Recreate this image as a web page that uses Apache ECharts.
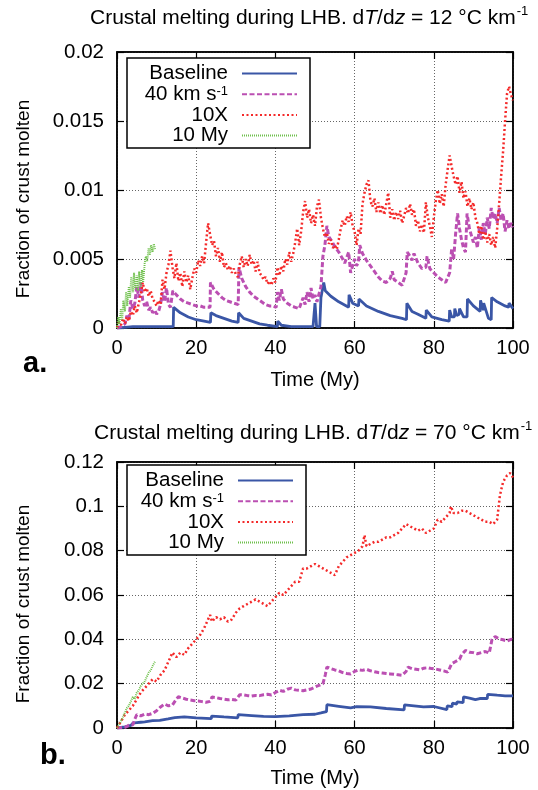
<!DOCTYPE html>
<html>
<head>
<meta charset="utf-8">
<script src="https://cdn.jsdelivr.net/npm/echarts@6/dist/echarts.min.js"></script>
<style>
html,body{margin:0;padding:0;background:#fff;}
#c{width:538px;height:790px;}
</style>
</head>
<body>
<div id="c"></div>
<script>
// ---------- DATA ----------
const seriesNames = ['Baseline', '40 km s-1', '10X', '10 My'];
const xTicks = [0, 20, 40, 60, 80, 100];
const aYTicks = [0, 0.005, 0.01, 0.015, 0.02];
const bYTicks = [0, 0.02, 0.04, 0.06, 0.08, 0.1, 0.12];

// panel a (dT/dz = 12)
const aBaseT = [0,2,4,14.2,14.3,16,18,20,22,23.6,23.7,25,27,29,30.6,30.7,32,34,36,38,40.5,40.6,41.5,44,49.5,50,50.4,51.2,51.5,52.2,52.6,54,56,58.5,58.6,59.5,61,61.1,63,66,69,72,73.1,73.2,74.5,76,78,78.1,79.5,82,83.9,84,84.5,85.2,85.3,85.8,86.4,86.5,87.5,88.4,88.5,90,91.7,91.8,92.5,92.6,93.8,94.5,94.6,96,98,98.9,99,100];
const aBaseV = [0,0.00005,0.0001,0.0001,0.0015,0.0011,0.0008,0.0006,0.0005,0.0004,0.0011,0.0009,0.0007,0.0005,0.0004,0.0011,0.0007,0.0005,0.0003,0.0002,0.0001,0.0005,0.0002,0.0001,0.0001,0.0018,0.0001,0.0001,0.0022,0.0033,0.0027,0.0023,0.0019,0.0015,0.0024,0.0018,0.0016,0.0021,0.0016,0.0012,0.0009,0.0007,0.0006,0.0018,0.0012,0.0010,0.0007,0.0013,0.0008,0.0006,0.0005,0.0013,0.0008,0.0008,0.0014,0.0009,0.0010,0.0014,0.0008,0.0008,0.0021,0.0016,0.0012,0.0020,0.0013,0.0018,0.0007,0.0006,0.0022,0.0019,0.0016,0.0015,0.0018,0.0014];

const a40T = [0,1,2,2.5,3,3.5,4,4.5,5,5.5,6,6.5,7,7.5,8,8.5,9,9.5,10,10.5,11,11.5,12,12.5,13,13.5,14,14.1,15,16,17,18,19,20,21,22,23.5,23.6,24.5,25.5,26.5,27.5,28.5,29.5,30.6,30.8,31.5,32.5,33.5,34.5,35.5,36.5,37.5,38.5,39.5,40.2,40.5,41,41.5,42,43,44,45,46,46.5,47,47.5,48,48.5,49,49.5,50,50.5,51,51.5,52,52.5,53,53.5,54,55,56,57,57.5,58,58.5,59,59.5,60,60.5,61,61.3,62,63,64,65,66,67,68,68.5,69,69.5,70,71,72,72.5,73,73.3,74,74.5,75,76,77,78,78.3,79,80,81,82,83,83.5,84,84.5,85,85.5,86,86.5,87,87.5,88,88.4,89,89.5,90,90.5,91,91.5,92,92.5,93,93.5,94,94.5,95,95.5,96,96.5,97,97.5,98,98.5,99,99.5,100];
const a40V = [0,0.0001,0.0003,0.0009,0.0006,0.0020,0.0014,0.0018,0.0030,0.0022,0.0033,0.0020,0.0016,0.0019,0.0013,0.0015,0.0011,0.0013,0.0010,0.0012,0.0017,0.0026,0.0019,0.0029,0.0017,0.0015,0.0014,0.0027,0.0024,0.0021,0.0019,0.0018,0.0017,0.0016,0.0016,0.0015,0.0015,0.0033,0.0028,0.0025,0.0022,0.0020,0.0019,0.0018,0.0017,0.0044,0.0036,0.0030,0.0026,0.0023,0.0021,0.0019,0.0017,0.0016,0.0016,0.0015,0.0026,0.0020,0.0028,0.0021,0.0018,0.0016,0.0015,0.0014,0.0014,0.0022,0.0017,0.0026,0.0019,0.0029,0.0021,0.0024,0.0019,0.0018,0.0030,0.0052,0.0060,0.0074,0.0066,0.0064,0.0059,0.0055,0.0050,0.0047,0.0046,0.0055,0.0040,0.0039,0.0050,0.0045,0.0048,0.0060,0.0054,0.0049,0.0045,0.0041,0.0037,0.0034,0.0033,0.0032,0.0036,0.0041,0.0035,0.0033,0.0031,0.0030,0.0040,0.0055,0.0052,0.0049,0.0054,0.0047,0.0043,0.0044,0.0052,0.0043,0.0040,0.0037,0.0035,0.0033,0.0032,0.0040,0.0057,0.0050,0.0068,0.0083,0.0072,0.0064,0.0058,0.0055,0.0083,0.0072,0.0067,0.0062,0.0066,0.0058,0.0073,0.0064,0.0076,0.0068,0.0080,0.0072,0.0087,0.0079,0.0083,0.0076,0.0087,0.0078,0.0083,0.0070,0.0078,0.0072,0.0076,0.0073];

const a10xT = [0,0.5,1,1.5,2,2.5,3,3.5,4,4.5,5,5.5,6,6.5,7,7.5,8,8.5,9,9.5,10,10.5,11,11.5,12,12.5,13,13.5,14,14.5,15,15.5,16,16.5,17,17.5,18,18.5,19,19.5,20,20.5,21,21.5,22,22.5,23,23.5,24,24.5,25,25.5,26,26.5,27,27.5,28,28.5,29,29.5,30,30.5,31,31.5,32,32.5,33,33.5,34,34.5,35,35.5,36,36.5,37,37.5,38,38.5,39,39.5,40,40.5,41,41.5,42,42.5,43,43.5,44,44.5,45,45.5,46,46.5,47,47.5,48,48.5,49,49.5,50,50.5,51,51.5,52,52.5,53,53.5,54,54.5,55,55.5,56,56.5,57,57.5,58,58.5,59,59.5,60,60.5,61,61.5,62,62.5,63,63.5,64,64.5,65,65.5,66,66.5,67,67.5,68,68.5,69,69.5,70,70.5,71,71.5,72,72.5,73,73.5,74,74.5,75,75.5,76,76.5,77,77.5,78,78.5,79,79.5,80,80.5,81,81.5,82,82.5,83,83.5,84,84.5,85,85.5,86,86.5,87,87.5,88,88.5,89,89.5,90,90.5,91,91.5,92,92.5,93,93.5,94,94.5,95,95.5,96,96.5,97,97.5,98,98.5,99,99.5,100];
const a10xV = [0,0.0004,0.0002,0.0007,0.0003,0.0008,0.0005,0.0012,0.0009,0.0016,0.0011,0.0018,0.0024,0.0033,0.0026,0.0029,0.0023,0.0027,0.0021,0.0019,0.0016,0.0020,0.0017,0.0035,0.0028,0.0040,0.0046,0.0056,0.0044,0.0036,0.0047,0.0034,0.0040,0.0030,0.0041,0.0033,0.0038,0.0028,0.0036,0.0043,0.0040,0.0049,0.0045,0.0052,0.0047,0.0062,0.0076,0.0068,0.0060,0.0063,0.0052,0.0058,0.0048,0.0055,0.0044,0.0047,0.0042,0.0045,0.0040,0.0043,0.0039,0.0037,0.0046,0.0052,0.0044,0.0050,0.0045,0.0053,0.0046,0.0049,0.0041,0.0048,0.0040,0.0038,0.0035,0.0037,0.0032,0.0034,0.0031,0.0036,0.0033,0.0044,0.0038,0.0045,0.0041,0.0050,0.0046,0.0055,0.0048,0.0054,0.0062,0.0072,0.0060,0.0070,0.0084,0.0092,0.0080,0.0086,0.0076,0.0082,0.0074,0.0088,0.0093,0.0080,0.0072,0.0066,0.0069,0.0061,0.0064,0.0058,0.0060,0.0057,0.0064,0.0072,0.0078,0.0074,0.0081,0.0077,0.0084,0.0074,0.0070,0.0060,0.0072,0.0068,0.0090,0.0098,0.0104,0.0107,0.0092,0.0088,0.0094,0.0084,0.0091,0.0083,0.0089,0.0082,0.0090,0.0098,0.0080,0.0086,0.0078,0.0084,0.0079,0.0085,0.0076,0.0081,0.0087,0.0083,0.0090,0.0082,0.0086,0.0074,0.0078,0.0070,0.0075,0.0069,0.0091,0.0080,0.0074,0.0066,0.0080,0.0092,0.0100,0.0090,0.0097,0.0088,0.0104,0.0115,0.0125,0.0117,0.0110,0.0104,0.0110,0.0098,0.0106,0.0094,0.0099,0.0088,0.0094,0.0086,0.0091,0.0080,0.0076,0.0068,0.0074,0.0064,0.0070,0.0062,0.0068,0.0060,0.0066,0.0058,0.0072,0.0090,0.0110,0.0128,0.0150,0.0170,0.0175,0.0169,0.0165];

const a10myT = [0,0.3,0.6,1,1.3,1.6,2,2.3,2.6,3,3.3,3.6,4,4.3,4.6,5,5.3,5.6,6,6.3,6.6,7,7.3,7.6,8,8.3,8.6,9,9.3,9.6];
const a10myV = [0,0.0008,0.0003,0.0014,0.0006,0.0020,0.0012,0.0026,0.0016,0.0030,0.0022,0.0037,0.0026,0.0040,0.0028,0.0038,0.0027,0.0041,0.0030,0.0042,0.0033,0.0047,0.0052,0.0048,0.0058,0.0053,0.0060,0.0055,0.0061,0.0057];

// panel b (dT/dz = 70)
const bBaseT = [0,2,3.5,4,5,6,7,7.1,9,10.8,10.9,12.9,13,14.6,14.7,17,20,23.8,23.9,27,30.5,30.6,34,37,40,43.5,43.6,47,50,50.1,51.5,51.6,52.9,53,56,59,59.1,60.5,60.6,64,68,72.5,72.6,75,77.4,77.5,80,83.3,83.4,84.6,84.7,85.8,85.9,87.4,87.5,89,90.5,90.6,91.6,91.7,93.5,93.6,96,98,98.1,100];
const bBaseV = [0,0.0005,0.0012,0.0022,0.0024,0.0026,0.0028,0.0032,0.0033,0.0034,0.0040,0.0041,0.0048,0.0047,0.0056,0.0050,0.0046,0.0042,0.0054,0.0050,0.0046,0.0060,0.0056,0.0052,0.0051,0.0055,0.0060,0.0060,0.0062,0.0068,0.0068,0.0074,0.0074,0.0105,0.0098,0.0091,0.0098,0.0096,0.0103,0.0095,0.0088,0.0082,0.0104,0.0100,0.0095,0.0102,0.0097,0.0083,0.0100,0.0096,0.0112,0.0108,0.0118,0.0114,0.0140,0.0135,0.0128,0.0136,0.0133,0.0142,0.0133,0.0152,0.0148,0.0145,0.0152,0.0145];

const b40T = [0,2,3,4,4.5,5,6,7,8,9,10,10.5,11,12,13,14,14.5,15,15.5,16.5,17.5,18.5,19.5,20.5,21.5,22.5,23.5,24,25,26,27,28,29,30,31,32,33,34,35,36,37,38,39,40,41,42,43,44,45,46,47,48,49,50,51,52,52.6,53,54,55,56,57,58,59,60,61,62,63,64,65,66,67,68,69,70,71,72,73,73.5,74.5,75.5,76.5,77.5,78.5,79.5,80.5,81.5,82.5,83.5,84,84.5,85.5,86.5,87,88,89,90,91,92,93,94,94.5,94.7,95.5,96.5,97.5,98.5,99.5,100];
const b40V = [0,0.0003,0.0012,0.0015,0.0040,0.0060,0.0055,0.0063,0.0060,0.0066,0.0078,0.0075,0.0095,0.0108,0.0100,0.0104,0.0100,0.0130,0.0141,0.0135,0.0130,0.0126,0.0123,0.0122,0.0119,0.0116,0.0120,0.0140,0.0137,0.0133,0.0130,0.0127,0.0129,0.0126,0.0150,0.0149,0.0146,0.0144,0.0147,0.0146,0.0150,0.0152,0.0149,0.0160,0.0170,0.0165,0.0175,0.0180,0.0172,0.0170,0.0168,0.0172,0.0176,0.0185,0.0192,0.0200,0.0240,0.0275,0.0268,0.0262,0.0258,0.0250,0.0246,0.0244,0.0255,0.0262,0.0260,0.0265,0.0258,0.0254,0.0250,0.0248,0.0246,0.0244,0.0242,0.0240,0.0238,0.0255,0.0275,0.0268,0.0265,0.0262,0.0270,0.0272,0.0268,0.0266,0.0262,0.0258,0.0252,0.0270,0.0290,0.0300,0.0310,0.0330,0.0350,0.0342,0.0340,0.0335,0.0340,0.0345,0.0338,0.0340,0.0400,0.0412,0.0402,0.0398,0.0392,0.0400,0.0398];

const b10xT = [0,1,2,3,4,5,6,7,8,9,10,11,12,13,14,15,16,17,18,19,20,21,22,23,23.5,24,25,26,27,28,29,30,31,32,33,34,35,36,37,38,39,40,41,42,43,44,45,46,47,48,49,50,51,52,53,54,55,56,57,58,59,60,61,62,62.5,63,64,65,66,67,68,69,70,71,72,73,74,75,76,77,78,79,80,81,82,83,84,84.3,85,86,87,88,89,90,91,92,93,94,95,96,96.7,97.5,98.5,99.3,100];
const b10xV = [0,0.003,0.006,0.008,0.010,0.013,0.016,0.018,0.020,0.022,0.021,0.024,0.026,0.030,0.034,0.032,0.034,0.033,0.036,0.038,0.040,0.042,0.045,0.049,0.051,0.048,0.050,0.049,0.050,0.048,0.049,0.052,0.054,0.055,0.056,0.057,0.058,0.057,0.056,0.055,0.057,0.059,0.061,0.060,0.062,0.064,0.066,0.066,0.072,0.072,0.073,0.074,0.073,0.072,0.071,0.070,0.069,0.073,0.075,0.077,0.078,0.079,0.080,0.082,0.087,0.082,0.083,0.084,0.084,0.085,0.086,0.086,0.087,0.088,0.090,0.092,0.091,0.090,0.089,0.090,0.088,0.089,0.090,0.094,0.093,0.095,0.097,0.100,0.097,0.097,0.098,0.098,0.097,0.096,0.095,0.094,0.093,0.093,0.092,0.094,0.105,0.111,0.114,0.115,0.113];

const b10myT = [0,1,2,2.5,3,3.5,4,4.5,5,5.5,6,6.5,7,7.5,8,8.5,9,9.6];
const b10myV = [0,0.003,0.007,0.009,0.010,0.012,0.014,0.013,0.016,0.017,0.019,0.020,0.021,0.023,0.025,0.026,0.028,0.030];

// ---------- CHART ----------
const pairs = (t, v) => t.map((x, i) => [x, v[i]]);
const FONT = 'Liberation Sans';
const colors = ['#3a56a6', '#bb4fb2', '#f42a2a', '#6fc04c'];
const styles = [
  {width: 2.8, type: 'solid'},
  {width: 3, type: [5, 2.5]},
  {width: 2.5, type: [2, 2.5]},
  {width: 2, type: [1, 1]}
];
function mk(name, idx, grid, t, v) {
  return {
    name: name, type: 'line', xAxisIndex: grid * 2, yAxisIndex: grid * 2,
    data: pairs(t, v), showSymbol: false, symbol: 'none', animation: false,
    lineStyle: {color: colors[idx], width: styles[idx].width, type: styles[idx].type},
    itemStyle: {color: colors[idx]}
  };
}
function xAx(grid, main) {
  return {
    type: 'value', gridIndex: grid, position: main ? 'bottom' : 'top',
    min: xTicks[0], max: xTicks[xTicks.length - 1], interval: xTicks[1] - xTicks[0],
    name: main ? 'Time (My)' : '', nameLocation: 'middle', nameGap: grid === 0 ? 42 : 40,
    nameTextStyle: {fontFamily: FONT, fontSize: 20, color: '#000'},
    axisLine: {show: true, onZero: false, lineStyle: {color: '#000', width: 1.5}},
    axisTick: {show: true, inside: true, length: 7, lineStyle: {color: '#000', width: 1.2}},
    axisLabel: {show: main, margin: 10, fontFamily: FONT, fontSize: 20, color: '#000'},
    splitLine: {show: main, lineStyle: {color: '#666', width: 1, type: [1, 2]}}
  };
}
function yAx(grid, main, ticks) {
  return {
    type: 'value', gridIndex: grid, position: main ? 'left' : 'right',
    min: ticks[0], max: ticks[ticks.length - 1], interval: ticks[1] - ticks[0],
    name: main ? 'Fraction of crust molten' : '', nameLocation: 'middle', nameGap: 84,
    nameTextStyle: {fontFamily: FONT, fontSize: 19, color: '#000', padding: [0, 18, 0, 0]},
    axisLine: {show: true, onZero: false, lineStyle: {color: '#000', width: 1.5}},
    axisTick: {show: true, inside: true, length: 7, lineStyle: {color: '#000', width: 1.2}},
    axisLabel: {show: main, margin: 13, fontFamily: FONT, fontSize: 20.5, color: '#000'},
    splitLine: {show: main, lineStyle: {color: '#666', width: 1, type: [1, 2]}}
  };
}
const titleRich = {
  n: {fontFamily: FONT, fontSize: 21, fontWeight: 'normal', color: '#000', lineHeight: 26},
  i: {fontFamily: FONT, fontSize: 21, fontWeight: 'normal', color: '#000', fontStyle: 'italic', lineHeight: 26},
  s: {fontFamily: FONT, fontSize: 13, fontWeight: 'normal', color: '#000', verticalAlign: 'top', lineHeight: 13, padding: [0, 0, 0, 1]}
};
const legRich = {
  sup: {fontFamily: FONT, fontSize: 13, color: '#000', verticalAlign: 'top', lineHeight: 12}
};
function legend(top, left, w) {
  return {
    data: seriesNames, orient: 'vertical', align: 'right',
    left: left, top: top, itemWidth: 55, itemHeight: 14, itemGap: -0.3,
    padding: [5, 12, 2, 5],
    backgroundColor: '#fff', borderColor: '#000', borderWidth: 1.5, borderRadius: 0,
    selectedMode: false,
    itemStyle: {opacity: 0},
    formatter: name => name === '40 km s-1' ? '40 km s{sup|-1}' : name,
    textStyle: {fontFamily: FONT, fontSize: 20.5, color: '#000', width: w, lineHeight: 19.5, padding: [0, 9, 0, 0], align: 'right', rich: legRich}
  };
}

const chart = echarts.init(document.getElementById('c'), null, {renderer: 'canvas'});
chart.setOption({
  animation: false,
  backgroundColor: '#fff',
  title: [
    {text: '{n|Crustal melting during LHB. d}{i|T}{n|/d}{i|z}{n| = 12 °C km}{s|-1}', left: 90, top: 5, padding: 0, textStyle: {fontWeight: 'normal', rich: titleRich}},
    {text: '{n|Crustal melting during LHB. d}{i|T}{n|/d}{i|z}{n| = 70 °C km}{s|-1}', left: 94, top: 420, padding: 0, textStyle: {fontWeight: 'normal', rich: titleRich}},
    {text: 'a.', left: 23, top: 349, padding: 0, textStyle: {fontFamily: FONT, fontSize: 29, fontWeight: 'bold', color: '#000'}},
    {text: 'b.', left: 40, top: 741, padding: 0, textStyle: {fontFamily: FONT, fontSize: 29, fontWeight: 'bold', color: '#000'}}
  ],
  legend: [legend(58, 127, 96), legend(465, 127, 92)],
  grid: [
    {left: 117, top: 52, width: 396, height: 276, show: true, borderColor: '#000', borderWidth: 1.5, backgroundColor: 'transparent'},
    {left: 117, top: 462, width: 396, height: 266, show: true, borderColor: '#000', borderWidth: 1.5, backgroundColor: 'transparent'}
  ],
  xAxis: [xAx(0, true), xAx(0, false), xAx(1, true), xAx(1, false)],
  yAxis: [yAx(0, true, aYTicks), yAx(0, false, aYTicks), yAx(1, true, bYTicks), yAx(1, false, bYTicks)],
  series: [
    mk(seriesNames[0], 0, 0, aBaseT, aBaseV),
    mk(seriesNames[1], 1, 0, a40T, a40V),
    mk(seriesNames[2], 2, 0, a10xT, a10xV),
    mk(seriesNames[3], 3, 0, a10myT, a10myV),
    mk(seriesNames[0], 0, 1, bBaseT, bBaseV),
    mk(seriesNames[1], 1, 1, b40T, b40V),
    mk(seriesNames[2], 2, 1, b10xT, b10xV),
    mk(seriesNames[3], 3, 1, b10myT, b10myV)
  ]
});
</script>
</body>
</html>
